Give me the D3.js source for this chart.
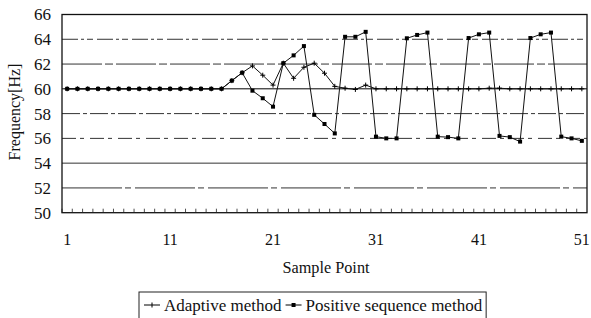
<!DOCTYPE html>
<html>
<head>
<meta charset="utf-8">
<script src="https://cdn.jsdelivr.net/npm/d3@7"></script>
<style>
	body{margin:0;background:#fff;}
</style>
</head>
<body>
<div id="chart"></div>
<script>
// sample points on the x axis
const samplePoints = [1,2,3,4,5,6,7,8,9,10,11,12,13,14,15,16,17,18,19,20,21,22,23,24,25,26,
	27,28,29,30,31,32,33,34,35,36,37,38,39,40,41,42,43,44,45,46,47,48,49,50,51];
const xTickLabels = [1,11,21,31,41,51];
const yTicks = [50,52,54,56,58,60,62,64,66];

// frequency, Hz
const adaptive = [60,60,60,60,60,60,60,60,60,60,60,60,60,60,60,60,
	60.66,61.3,61.85,61.1,60.3,62.07,60.85,61.74,62.07,61.26,60.2,60.05,59.95,60.3,
	60,60,60,60,60,60,60,60,60,60,60,60.05,60.05,60,60,60,60,60,60,60,60];
const positiveSeq = [60,60,60,60,60,60,60,60,60,60,60,60,60,60,60,60,
	60.66,61.3,59.85,59.24,58.56,62.07,62.7,63.45,57.9,57.16,56.4,64.2,64.2,64.6,
	56.14,56.0,56.0,64.08,64.35,64.54,56.14,56.1,56.0,64.1,64.4,64.54,
	56.2,56.1,55.74,64.1,64.4,64.54,56.14,56.0,55.8];

const FONT = '"Liberation Serif", "DejaVu Serif", serif';
const W = 591, H = 318;
const margin = {top:14.5, left:62, right:4, bottom:105.3};
const plotW = W - margin.left - margin.right;
const plotH = H - margin.top - margin.bottom;

const svg = d3.select('#chart').append('svg')
	.attr('width',W)
	.attr('height',H)
	.attr('font-family',FONT)
	.style('display','block');

const x = d3.scaleBand().domain(samplePoints).range([0,plotW]).padding(0);
const y = d3.scaleLinear().domain([50,66]).range([plotH,0]);

const g = svg.append('g').attr('transform',`translate(${margin.left},${margin.top})`);

// gridlines (scanned look: some dashed)
const dashFor = {64:'16,3,3,3,6,4',62:'40,3,8,3',58:'18,3,4,3',56:'14,4,4,6',54:'none',52:'60,3,6,4'};
g.append('g').attr('class','grid')
	.selectAll('line')
	.data(yTicks.filter(d => d > 50 && d < 66))
	.join('line')
	.attr('x1',0).attr('x2',plotW)
	.attr('y1',d => y(d)).attr('y2',d => y(d))
	.style('stroke',d => d == 60 ? '#000' : '#333')
	.style('stroke-width',1)
	.style('stroke-dasharray',d => dashFor[d] || 'none');

// frame
g.append('rect')
	.attr('width',plotW).attr('height',plotH)
	.style('fill','none').style('stroke','#111').style('stroke-width',1.3);

// x axis with inner ticks at band edges
const xAxis = g.append('g').attr('class','axis x')
	.attr('transform',`translate(0,${plotH})`);
xAxis.selectAll('line.tick')
	.data(samplePoints)
	.join('line')
	.attr('class','tick')
	.attr('x1',d => x(d)).attr('x2',d => x(d))
	.attr('y1',0).attr('y2',-4)
	.style('stroke','#222').style('stroke-width',0.8);
xAxis.selectAll('text')
	.data(xTickLabels)
	.join('text')
	.attr('x',d => x(d) + x.bandwidth()/2)
	.attr('y',32)
	.attr('text-anchor','middle')
	.style('font-size','16px')
	.style('fill','#111')
	.text(d => d);

// y axis labels
g.append('g').attr('class','axis y')
	.selectAll('text')
	.data(yTicks)
	.join('text')
	.attr('x',-11)
	.attr('y',d => y(d))
	.attr('dy','0.35em')
	.attr('text-anchor','end')
	.style('font-size','17px')
	.style('fill','#111')
	.text(d => d);

// axis titles
svg.append('text')
	.attr('x',326)
	.attr('y',273)
	.attr('text-anchor','middle')
	.attr('textLength',87)
	.attr('lengthAdjust','spacingAndGlyphs')
	.style('font-size','16px')
	.style('fill','#111')
	.text('Sample Point');

svg.append('text')
	.attr('transform',`translate(20,112) rotate(-90)`)
	.attr('text-anchor','middle')
	.style('font-size','16px')
	.style('fill','#111')
	.text('Frequency[Hz]');

// lines
const line = d3.line()
	.x((d,i) => x(samplePoints[i]) + x.bandwidth()/2)
	.y(d => y(d));

g.append('path').datum(adaptive)
	.attr('d',line)
	.style('fill','none').style('stroke','#111').style('stroke-width',1);
g.append('path').datum(positiveSeq)
	.attr('d',line)
	.style('fill','none').style('stroke','#111').style('stroke-width',1);

// markers
g.append('g').selectAll('path')
	.data(adaptive)
	.join('path')
	.attr('d',(d,i) => {
		const cx = x(samplePoints[i]) + x.bandwidth()/2, cy = y(d);
		return `M${cx-2.5},${cy}H${cx+2.5}M${cx},${cy-2.5}V${cy+2.5}`;
	})
	.style('stroke','#000').style('stroke-width',1);

g.append('g').selectAll('rect')
	.data(positiveSeq)
	.join('rect')
	.attr('x',(d,i) => x(samplePoints[i]) + x.bandwidth()/2 - 2)
	.attr('y',d => y(d) - 2)
	.attr('width',4).attr('height',4)
	.style('fill','#000');

// legend
const legend = svg.append('g').attr('class','legend');
const legendBox = legend.append('rect')
	.attr('x',139).attr('y',292)
	.attr('height',32)
	.style('fill','#fff').style('stroke','#222').style('stroke-width',1);

legend.append('line')
	.attr('x1',144).attr('x2',160).attr('y1',305).attr('y2',305)
	.style('stroke','#000');
legend.append('path')
	.attr('d','M152,302.5V307.5')
	.style('stroke','#000');
const t1 = legend.append('text')
	.attr('x',164).attr('y',305).attr('dy','0.35em')
	.style('font-size','17px')
	.style('fill','#111')
	.text('Adaptive method');

const x2 = 164 + t1.node().getComputedTextLength() + 4;
legend.append('line')
	.attr('x1',x2).attr('x2',x2 + 16).attr('y1',305).attr('y2',305)
	.style('stroke','#000');
legend.append('rect')
	.attr('x',x2 + 6).attr('y',303).attr('width',4).attr('height',4)
	.style('fill','#000');
const t2 = legend.append('text')
	.attr('x',x2 + 20).attr('y',305).attr('dy','0.35em')
	.style('font-size','17px')
	.style('fill','#111')
	.text('Positive sequence method');

legendBox.attr('width',x2 + 20 + t2.node().getComputedTextLength() + 4 - 139);
</script>
</body>
</html>
